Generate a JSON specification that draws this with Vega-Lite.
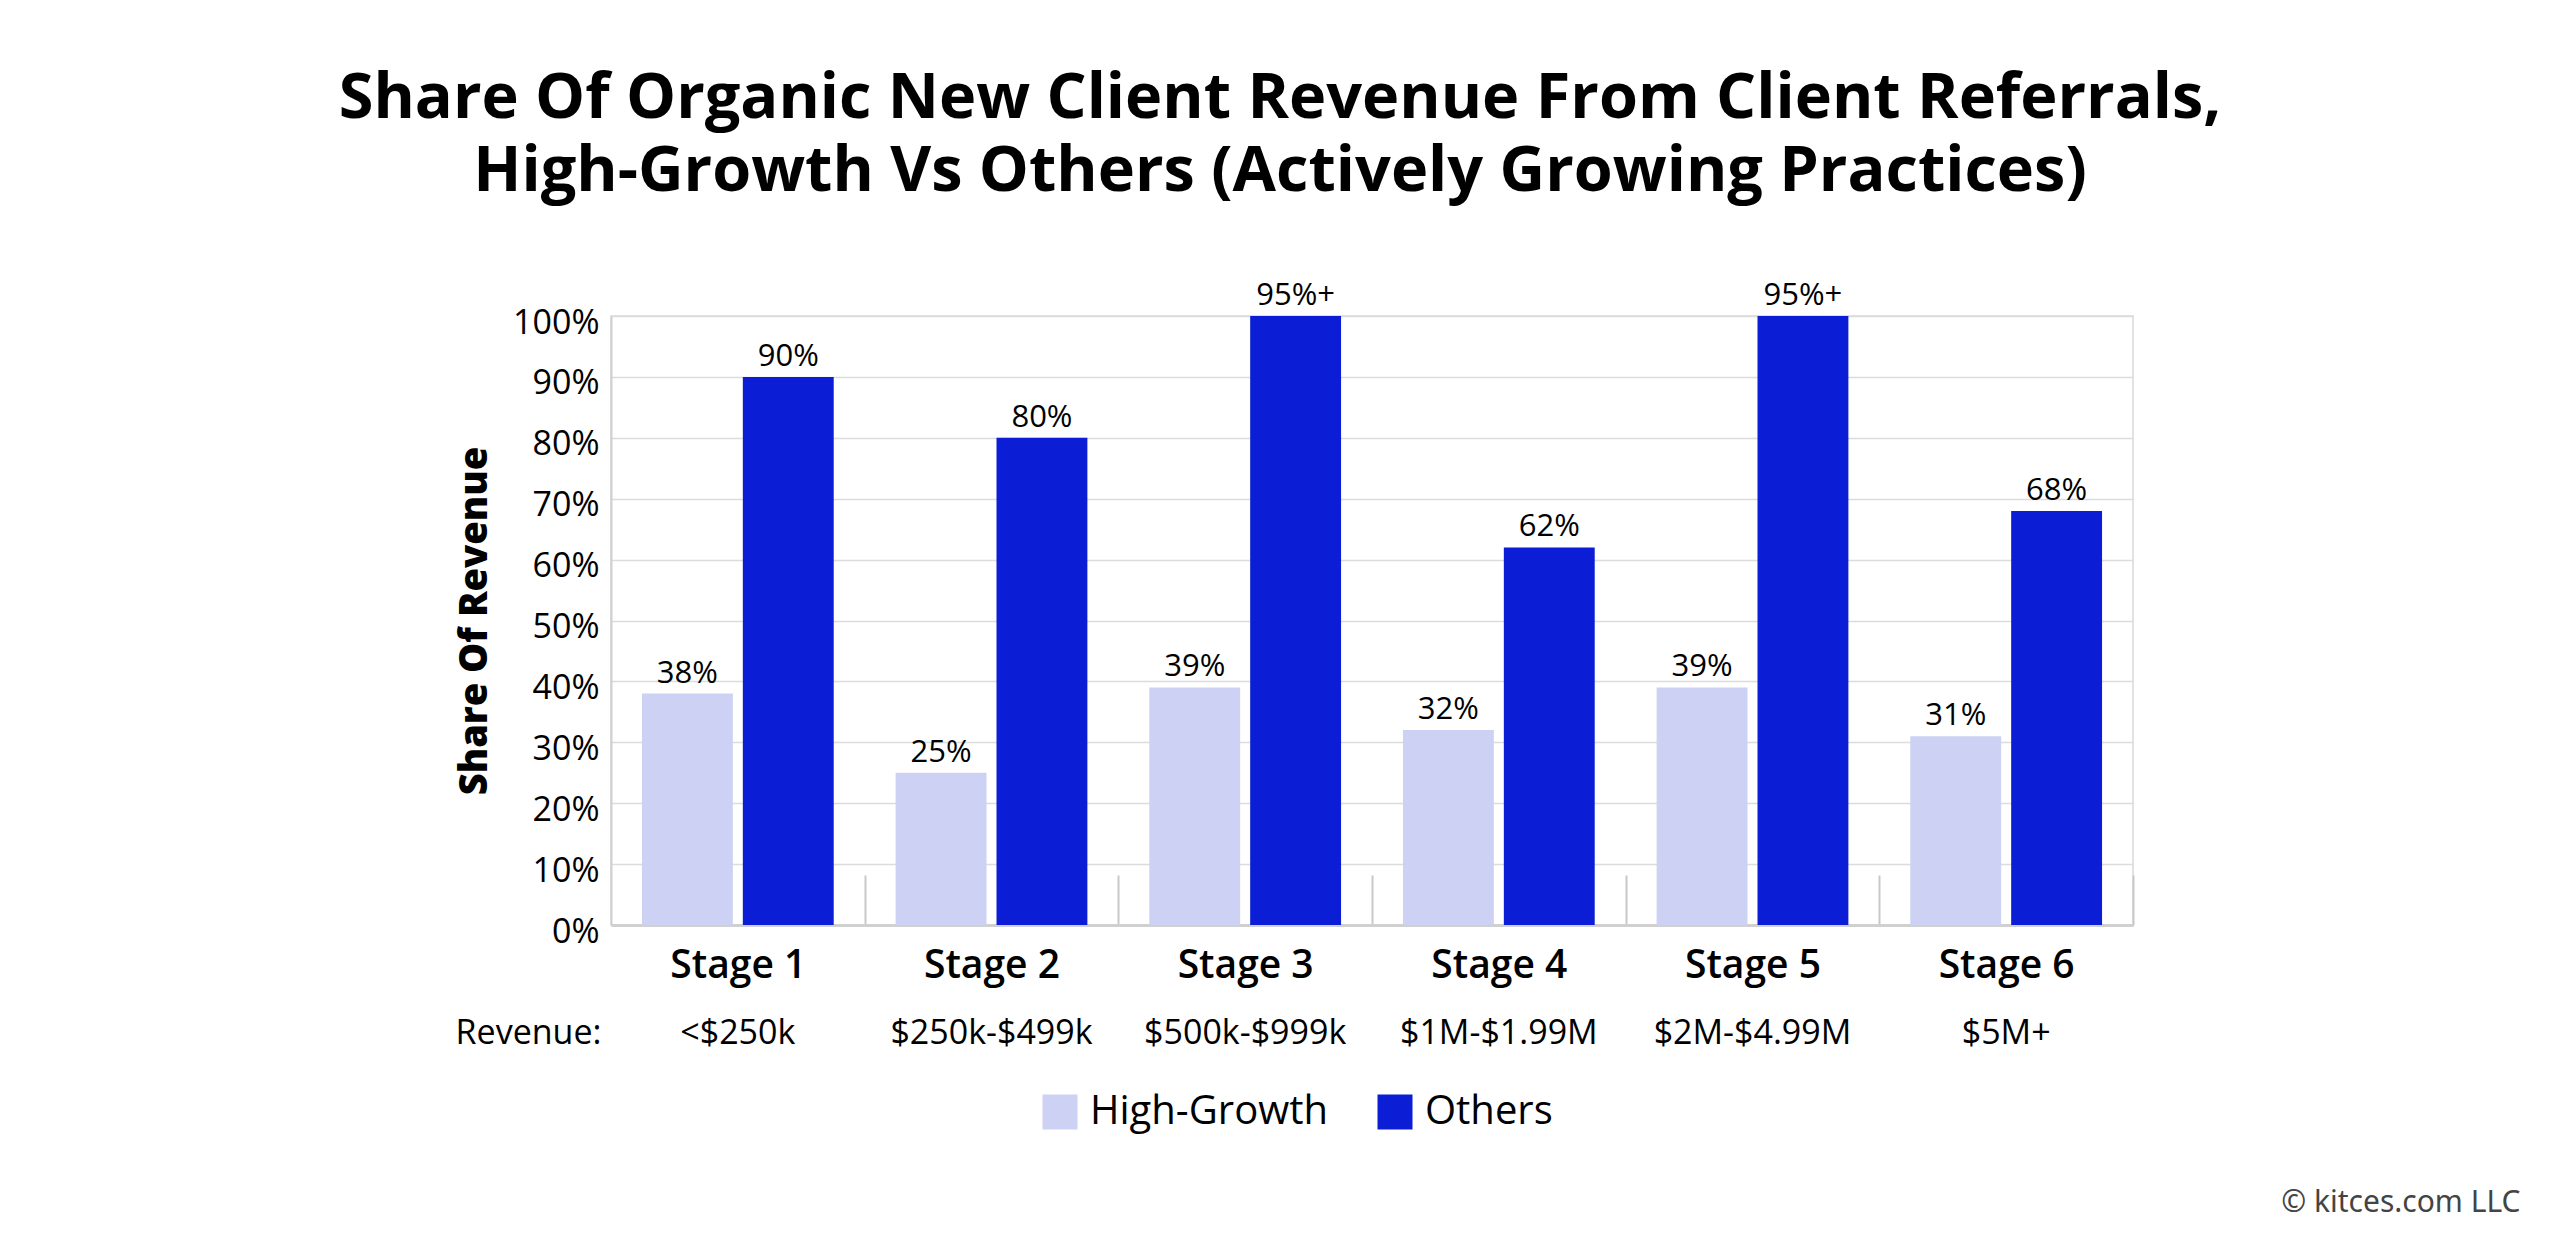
{
  "$schema": "https://vega.github.io/schema/vega-lite/v6.json",
  "width": 1522,
  "height": 609,
  "autosize": "none",
  "padding": {"left": 611, "top": 316, "right": 427, "bottom": 323},
  "background": "white",
  "title": {
    "text": ["Share Of Organic New Client Revenue From Client Referrals,", "High-Growth Vs Others (Actively Growing Practices)"],
    "fontSize": 63,
    "fontWeight": "bold",
    "lineHeight": 73,
    "anchor": "middle",
    "dx": -92,
    "offset": 76,
    "color": "black"
  },
  "data": {
    "values": [
      {"stage": "Stage 1|<$250k", "series": "High-Growth", "value": 38, "label": "38%"},
      {"stage": "Stage 1|<$250k", "series": "Others", "value": 90, "label": "90%"},
      {"stage": "Stage 2|$250k-$499k", "series": "High-Growth", "value": 25, "label": "25%"},
      {"stage": "Stage 2|$250k-$499k", "series": "Others", "value": 80, "label": "80%"},
      {"stage": "Stage 3|$500k-$999k", "series": "High-Growth", "value": 39, "label": "39%"},
      {"stage": "Stage 3|$500k-$999k", "series": "Others", "value": 100, "label": "95%+"},
      {"stage": "Stage 4|$1M-$1.99M", "series": "High-Growth", "value": 32, "label": "32%"},
      {"stage": "Stage 4|$1M-$1.99M", "series": "Others", "value": 62, "label": "62%"},
      {"stage": "Stage 5|$2M-$4.99M", "series": "High-Growth", "value": 39, "label": "39%"},
      {"stage": "Stage 5|$2M-$4.99M", "series": "Others", "value": 100, "label": "95%+"},
      {"stage": "Stage 6|$5M+", "series": "High-Growth", "value": 31, "label": "31%"},
      {"stage": "Stage 6|$5M+", "series": "Others", "value": 68, "label": "68%"}
    ]
  },
  "encoding": {
    "xOffset": {"field": "series", "type": "nominal", "scale": {"paddingInner": 0.099, "paddingOuter": 0}},
    "y": {
      "field": "value",
      "type": "quantitative",
      "scale": {"domain": [0, 100], "nice": false},
      "axis": {
        "title": "Share Of Revenue",
        "values": [0, 10, 20, 30, 40, 50, 60, 70, 80, 90, 100],
        "labelExpr": "datum.value + '%'",
        "labelFontSize": 34,
        "labelColor": "black",
        "labelPadding": 12,
        "labelOffset": 7,
        "ticks": false,
        "domainColor": "#d0d0d0",
        "domainWidth": 2,
        "gridColor": "#dcdcdc",
        "gridWidth": 1.5,
        "titleFontSize": 38,
        "titleFontWeight": 800,
        "titleColor": "black",
        "titlePadding": 18
      }
    }
  },
  "layer": [
    {
      "mark": {"type": "bar"},
      "encoding": {
        "x": {
          "field": "stage",
          "type": "nominal",
          "sort": null,
          "scale": {"paddingInner": 0.244, "paddingOuter": 0.122},
          "axis": {
            "title": "© kitces.com LLC",
            "titleX": 1909,
            "titleY": 286,
            "titleAlign": "right",
            "titleBaseline": "alphabetic",
            "titleFontSize": 30,
            "titleFontWeight": "normal",
            "titleColor": "#444444",
            "titleFont": "Noto Sans",
            "labelExpr": "split(datum.label, '|')[0]",
            "labelAngle": 0,
            "labelLimit": 0,
            "labelFontSize": 39,
            "labelFontWeight": 600,
            "labelColor": "black",
            "labelBaseline": "alphabetic",
            "labelPadding": 102,
            "labelOffset": -126.83,
            "ticks": true,
            "tickOffset": 126.83,
            "tickSize": -50,
            "tickColor": "#c8c8c8",
            "tickWidth": 2,
            "domainColor": "#d0d0d0",
            "domainWidth": 3
          }
        },
        "color": {
          "field": "series",
          "type": "nominal",
          "scale": {"domain": ["High-Growth", "Others"], "range": ["#cdd1f4", "#0b1ed6"]},
          "legend": {
            "orient": "none",
            "legendX": 429,
            "legendY": 776,
            "direction": "horizontal",
            "title": null,
            "symbolType": "square",
            "symbolSize": 1225,
            "symbolStrokeWidth": 0,
            "symbolOpacity": 1,
            "labelFontSize": 40,
            "labelLimit": 0,
            "labelOffset": 10,
            "columnPadding": 47,
            "labelColor": "black"
          }
        }
      }
    },
    {
      "mark": {"type": "text", "fontSize": 31, "baseline": "alphabetic", "dy": -11, "color": "black"},
      "encoding": {
        "x": {
          "field": "stage",
          "type": "nominal",
          "sort": null,
          "axis": {
            "orient": "bottom",
            "title": "Revenue:",
            "titleX": -10,
            "titleY": 118,
            "titleAlign": "right",
            "titleAngle": 0,
            "titleBaseline": "alphabetic",
            "titleFontSize": 34,
            "titleFontWeight": "normal",
            "titleColor": "black",
            "labelExpr": "split(datum.label, '|')[1]",
            "labelFontSize": 34,
            "labelLimit": 0,
            "labelColor": "black",
            "labelAngle": 0,
            "labelBaseline": "alphabetic",
            "labelPadding": 118,
            "ticks": false,
            "domain": false,
            "grid": false
          }
        },
        "text": {"field": "label"}
      }
    }
  ],
  "resolve": {"axis": {"x": "independent"}},
  "config": {
    "font": "Open Sans",
    "view": {"stroke": "#d9d9d9", "strokeWidth": 1.5}
  }
}
